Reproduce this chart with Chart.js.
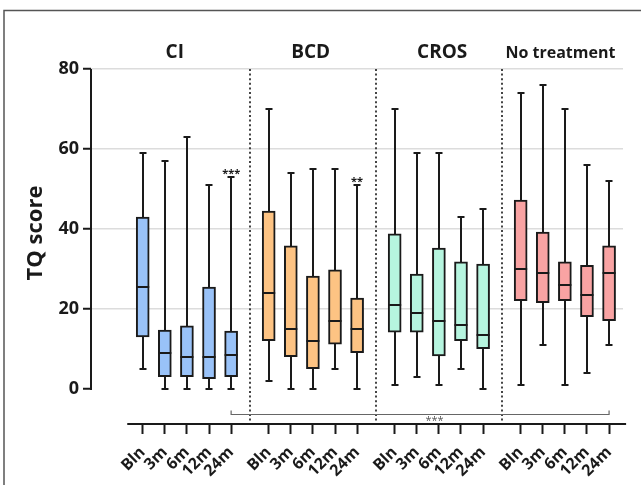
<!DOCTYPE html>
<html>
<head>
<meta charset="utf-8">
<script src="https://cdn.jsdelivr.net/npm/chart.js@4.4.1/dist/chart.umd.min.js"></script>
<style>
  html, body { margin: 0; padding: 0; background: #fff; }
</style>
</head>
<body>
<canvas id="tqChart" width="641" height="485"></canvas>
<script>
// ============================================
// TQ SCORE BOX PLOTS PER TREATMENT GROUP
// ============================================

const groups = ['CI', 'BCD', 'CROS', 'No treatment'];
const timepoints = ['Bln', '3m', '6m', '12m', '24m'];
const groupColors = ['#99c2f8', '#fdc383', '#b6f5df', '#f9a3a3'];
const yTicks = [0, 20, 40, 60, 80];

// one row per group, one value per timepoint
const minVals = [
    [5, 0, 0, 0, 0],
    [2, 0, 0, 5, 0],
    [1, 3, 1, 5, 0],
    [1, 11, 1, 4, 11]
];
const q1Vals = [
    [13, 3.1, 3.1, 2.6, 3.1],
    [12.1, 8.1, 5.1, 11.2, 9.1],
    [14.2, 14.2, 8.3, 12.1, 10.1],
    [22.1, 21.6, 22.1, 18.1, 17.1]
];
const medianVals = [
    [25.5, 9, 8, 8, 8.5],
    [24, 15, 12, 17, 15],
    [21, 19, 17, 16, 13.5],
    [30, 29, 26, 23.5, 29]
];
const q3Vals = [
    [43, 14.7, 15.8, 25.5, 14.5],
    [44.5, 35.8, 28.2, 29.8, 22.7],
    [38.8, 28.7, 35.2, 31.8, 31.2],
    [47.2, 39.2, 31.8, 30.9, 35.8]
];
const maxVals = [
    [59, 57, 63, 51, 53],
    [70, 54, 55, 55, 51],
    [70, 59, 59, 43, 45],
    [74, 76, 70, 56, 52]
];
// significance marks above whiskers (vs baseline)
const sigGroup = [0, 1];
const sigTime = [4, 4];
const sigLabel = ['***', '**'];
const bracketLabel = '***';
const yTitle = 'TQ score';

const GROUP_STEP = 5.7; // slot units per group (5 boxes + gap)
const pos = (g, t) => g * GROUP_STEP + t;

const FONT = "'Open Sans', 'DejaVu Sans', sans-serif";
const INK = '#1a1a1a';

const tickPositions = [];
groups.forEach((_, g) => timepoints.forEach((_, t) => tickPositions.push(pos(g, t))));

const datasets = groups.map((name, g) => ({
    label: name,
    data: timepoints.map((_, t) => ({ x: pos(g, t), y: [q1Vals[g][t], q3Vals[g][t]] })),
    backgroundColor: groupColors[g],
    borderColor: INK,
    borderWidth: 2,
    borderSkipped: false,
    barThickness: 13,
    grouped: false
}));

const boxExtras = {
    id: 'boxExtras',
    beforeDraw(chart) {
        const { ctx } = chart;
        ctx.save();
        // outer frame
        ctx.strokeStyle = '#555';
        ctx.lineWidth = 1.5;
        ctx.beginPath();
        ctx.moveTo(4, 485);
        ctx.lineTo(4, 10.5);
        ctx.lineTo(641, 10.5);
        ctx.stroke();
        ctx.restore();
    },
    beforeDatasetsDraw(chart) {
        const { ctx, chartArea } = chart;
        const x = chart.scales.x, y = chart.scales.y;
        ctx.save();
        // dotted group separators, halfway between groups
        ctx.strokeStyle = '#444';
        ctx.lineWidth = 2;
        ctx.setLineDash([2, 2.6]);
        for (let g = 1; g < groups.length; g++) {
            const px = Math.round(x.getPixelForValue((pos(g - 1, 4) + pos(g, 0)) / 2));
            ctx.beginPath();
            ctx.moveTo(px, y.getPixelForValue(80));
            ctx.lineTo(px, chartArea.bottom);
            ctx.stroke();
        }
        ctx.setLineDash([]);
        // whiskers
        ctx.strokeStyle = INK;
        ctx.lineWidth = 2;
        groups.forEach((_, g) => timepoints.forEach((_, t) => {
            const px = Math.round(x.getPixelForValue(pos(g, t)));
            const top = y.getPixelForValue(maxVals[g][t]);
            const bot = y.getPixelForValue(minVals[g][t]);
            ctx.beginPath();
            ctx.moveTo(px, top);
            ctx.lineTo(px, bot);
            ctx.moveTo(px - 3.5, top);
            ctx.lineTo(px + 3.5, top);
            ctx.moveTo(px - 3.5, bot);
            ctx.lineTo(px + 3.5, bot);
            ctx.stroke();
        }));
        ctx.restore();
    },
    afterDatasetsDraw(chart, args, opts) {
        const { ctx, chartArea } = chart;
        const x = chart.scales.x, y = chart.scales.y;
        ctx.save();
        // medians
        ctx.strokeStyle = INK;
        ctx.lineWidth = 2;
        groups.forEach((_, g) => timepoints.forEach((_, t) => {
            const px = x.getPixelForValue(pos(g, t));
            const py = y.getPixelForValue(medianVals[g][t]);
            ctx.beginPath();
            ctx.moveTo(px - 6.5, py);
            ctx.lineTo(px + 6.5, py);
            ctx.stroke();
        }));
        // y axis line (0 to 80 only)
        ctx.beginPath();
        ctx.moveTo(chartArea.left, y.getPixelForValue(80));
        ctx.lineTo(chartArea.left, y.getPixelForValue(0) + 1);
        ctx.stroke();
        // detached x axis line
        ctx.beginPath();
        ctx.moveTo(x.getPixelForValue(-0.7), chartArea.bottom);
        ctx.lineTo(x.getPixelForValue(21.87), chartArea.bottom);
        ctx.stroke();
        // bracket: CI 24m .. No treatment 24m
        const by = Math.round(y.getPixelForValue(-6.2)) + 0.5;
        const bl = x.getPixelForValue(pos(0, 4)), br = x.getPixelForValue(pos(3, 4));
        ctx.strokeStyle = '#666';
        ctx.lineWidth = 1.2;
        ctx.beginPath();
        ctx.moveTo(bl, by - 4);
        ctx.lineTo(bl, by);
        ctx.lineTo(br, by);
        ctx.lineTo(br, by - 4);
        ctx.stroke();
        ctx.fillStyle = '#555';
        ctx.font = `11px ${FONT}`;
        ctx.textAlign = 'center';
        ctx.textBaseline = 'middle';
        ctx.fillText(bracketLabel, x.getPixelForValue(pos(2, 2) - 0.2), by + 6);
        // significance stars above whiskers
        ctx.fillStyle = INK;
        ctx.font = `bold 11px ${FONT}`;
        sigGroup.forEach((g, i) => {
            const t = sigTime[i];
            ctx.fillText(sigLabel[i], x.getPixelForValue(pos(g, t)), y.getPixelForValue(maxVals[g][t]) - 3);
        });
        // group titles
        groups.forEach((name, g) => {
            const size = name.length > 6 ? 16 : 19;
            ctx.font = `bold ${size}px ${FONT}`;
            const cx = x.getPixelForValue(pos(g, 2) + opts.titleOffsets[g]);
            ctx.fillText(name, cx, 53);
        });
        // y axis title, centred on the 0-80 axis line
        ctx.save();
        ctx.translate(36, (y.getPixelForValue(0) + y.getPixelForValue(80)) / 2 + 4);
        ctx.rotate(-Math.PI / 2);
        ctx.font = `bold 22px ${FONT}`;
        ctx.fillText(yTitle, 0, 0);
        ctx.restore();
        ctx.restore();
    }
};

const ctx = document.getElementById('tqChart').getContext('2d');
new Chart(ctx, {
    type: 'bar',
    data: { datasets },
    plugins: [boxExtras],
    options: {
        responsive: false,
        animation: false,
        devicePixelRatio: 1,
        layout: { padding: { left: 0, right: 18, top: 69, bottom: 0 } },
        plugins: {
            legend: { display: false },
            tooltip: { enabled: false },
            boxExtras: { titleOffsets: [-0.55, -0.1, 0.15, -0.2] }
        },
        scales: {
            x: {
                type: 'linear',
                position: 'bottom',
                offset: false,
                min: -2.34,
                max: 21.73,
                afterBuildTicks: s => { s.ticks = tickPositions.map(v => ({ value: v })); },
                afterFit: s => { s.height = 61; },
                border: { display: false },
                grid: {
                    offset: false,
                    drawOnChartArea: false,
                    tickLength: 10,
                    tickWidth: 2,
                    tickColor: INK
                },
                ticks: {
                    autoSkip: false,
                    maxRotation: 45,
                    minRotation: 45,
                    padding: 9,
                    color: INK,
                    font: { family: FONT, size: 16, weight: 'bold' },
                    callback: (v, i) => timepoints[i % timepoints.length]
                }
            },
            y: {
                min: -8.75,
                max: 80,
                afterBuildTicks: s => { s.ticks = yTicks.map(v => ({ value: v })); },
                afterFit: s => { s.width = 91; },
                border: { display: false },
                grid: {
                    color: c => (c.tick && c.tick.value === 0) ? 'rgba(0,0,0,0)' : '#dcdcdc',
                    lineWidth: 1.5,
                    tickLength: 8,
                    tickWidth: 2,
                    tickColor: INK
                },
                ticks: {
                    padding: 4,
                    color: INK,
                    font: { family: FONT, size: 18, weight: 'bold' }
                }
            }
        }
    }
});
</script>
</body>
</html>
